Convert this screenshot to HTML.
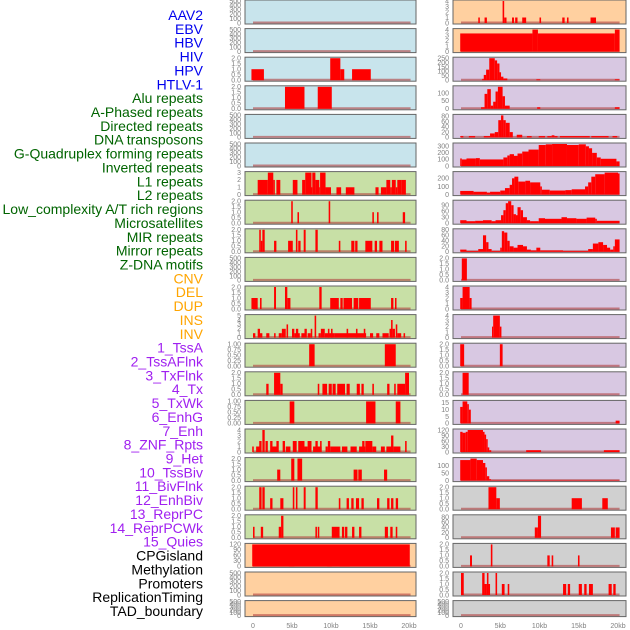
<!DOCTYPE html>
<html><head><meta charset="utf-8">
<style>
html,body{margin:0;padding:0;background:#fff;width:630px;height:630px;overflow:hidden}
svg{display:block}
.lbl{font-family:"Liberation Sans",sans-serif;font-size:14px}
.tk{font-family:"Liberation Sans",sans-serif;font-size:7px;fill:#808080}
</style></head>
<body>
<svg id="chart" width="630" height="630"></svg>
<script>
const trackLabels = ["AAV2","EBV","HBV","HIV","HPV","HTLV-1","Alu repeats","A-Phased repeats","Directed repeats","DNA transposons","G-Quadruplex forming repeats","Inverted repeats","L1 repeats","L2 repeats","Low_complexity A/T rich regions","Microsatellites","MIR repeats","Mirror repeats","Z-DNA motifs","CNV","DEL","DUP","INS","INV","1_TssA","2_TssAFlnk","3_TxFlnk","4_Tx","5_TxWk","6_EnhG","7_Enh","8_ZNF_Rpts","9_Het","10_TssBiv","11_BivFlnk","12_EnhBiv","13_ReprPC","14_ReprPCWk","15_Quies","CPGisland","Methylation","Promoters","ReplicationTiming","TAD_boundary"];
const labelColors = [].concat(Array(6).fill("#0000ee"),Array(13).fill("#006400"),Array(5).fill("#ffa500"),Array(15).fill("#a020f0"),Array(5).fill("#000000"));
const xTickLabels = ["0","5kb","10kb","15kb","20kb"];
const xTickValues = [0,5,10,15,20];

const T500=["0","100","200","300","400","500"], T2=["0.0","0.5","1.0","1.5","2.0"], T1=["0.00","0.25","0.50","0.75","1.00"];
// left column
const leftBg = ["#c8e4ec","#c8e4ec","#c8e4ec","#c8e4ec","#c8e4ec","#c8e4ec","#c8e0a6","#c8e0a6","#c8e0a6","#c8e0a6","#c8e0a6","#c8e0a6","#c8e0a6","#c8e0a6","#c8e0a6","#c8e0a6","#c8e0a6","#c8e0a6","#c8e0a6","#ffd0a0","#ffd0a0","#ffd0a0"];
const leftMax = [500,500,2,2,500,500,3,2,2,500,2,5,1,2,1,4,2,2,2,120,500,500];
const leftTicks = [T500,T500,T2,T2,T500,T500,["0","1","2","3"],T2,T2,T500,T2,["0","1","2","3","4","5"],T1,T2,T1,["0","1","2","3","4"],T2,T2,T2,["0","30","60","90","120"],T500,T500];
const leftSegs = [
[],[],
[[-0.2,1.4,1],[9.9,11.2,2],[11.2,11.7,1],[12.7,15.1,1]],
[[4.1,6.6,2],[8.3,10.1,2]],
[],[],
[[0.6,1.9,2],[1.9,2.6,3],[2.6,2.8,2],[3.0,3.5,2],[5.1,5.7,2],[6.3,6.7,2],[6.7,7.5,3],[7.5,7.6,1],[7.6,8.0,3],[8.0,8.5,2],[8.5,8.6,1],[8.6,9.3,3],[9.3,10,1],[10.7,11.3,1],[11.9,13,1],[15.7,16.1,1],[16.4,17.1,1],[17.1,17.6,2],[17.6,17.8,1],[17.8,18.3,2],[18.3,18.5,1],[18.5,19.0,2],[19.0,19.6,2]],
[[4.9,5.1,2],[5.7,5.9,1],[9.7,9.9,2],[15.3,15.5,1],[15.9,16.1,1],[19.2,19.5,1]],
[[0.8,1.0,2],[1.0,1.2,1],[1.2,1.5,2],[2.7,3.0,1],[4.5,5.1,1],[5.5,5.7,2],[5.8,6.1,1],[6.5,6.75,2],[8.0,8.3,2],[11.0,11.2,1],[12.6,13,1],[13.1,13.4,1],[14.4,15.3,1],[15.6,15.9,1],[16.2,16.6,1],[17.7,18.1,1],[18.2,18.7,1],[19.5,19.7,1]],
[],
[[-0.2,0.6,1],[0.9,1.1,1],[2.7,2.95,2],[4.1,4.4,2],[4.4,4.8,1],[8.5,8.8,2],[9.9,11.0,1],[11.2,11.5,1],[11.6,12.7,1],[12.9,13.5,1],[13.6,15.1,1],[17.7,18.0,1],[18.2,18.4,1]],
[[0,0.3,1],[0.6,0.9,2],[0.9,1.2,1],[1.7,2.1,1],[2.7,2.9,1],[3.3,3.7,1],[3.7,4.2,2],[4.3,4.5,3],[5.0,5.3,2],[5.3,6.0,1],[5.5,5.8,2],[6.2,6.6,1],[6.6,6.9,2],[7.0,7.4,1],[7.4,7.6,2],[7.9,8.1,5],[8.4,8.7,1],[8.7,9.2,2],[9.2,10.5,1],[9.6,9.8,2],[10.0,10.2,2],[10.5,14.5,1],[12.0,12.2,2],[13.2,13.4,2],[14.2,14.4,2],[15.0,15.4,1],[15.8,16.2,1],[16.6,17.4,1],[17.5,17.9,2],[17.7,17.9,4],[17.9,18.2,2],[18.3,18.5,3],[18.5,19.0,1],[19.3,19.5,1]],
[[7.2,7.9,1],[16.9,18.3,1]],
[[1.7,2.0,1],[2.7,3.5,2],[3.5,3.8,1],[8.3,8.5,1],[8.9,9.5,1],[9.7,10.1,1],[10.2,10.6,1],[10.8,11.8,1],[12.0,12.4,1],[13.3,13.7,1],[13.9,14.2,1],[15.3,15.5,1],[17.2,17.5,1],[18.1,18.3,1],[18.5,19.5,1],[19.5,20.0,2]],
[[4.7,5.3,1],[14.5,15.7,1],[18.3,18.9,1]],
[[-0.1,0.1,1],[0.4,0.9,1],[0.8,1.1,2],[1.2,1.5,4],[1.6,1.9,2],[2.2,2.5,2],[2.5,3.2,1],[3.0,3.3,2],[3.8,4.1,2],[4.2,4.8,1],[5.1,5.6,2],[5.8,6.6,2],[6.6,7.0,1],[7.0,7.5,2],[7.7,8.8,1],[8.0,8.3,2],[8.6,8.8,2],[9.3,9.6,1],[9.6,9.9,2],[9.9,11.2,1],[11.4,12.1,1],[12.5,13.3,1],[13.6,14.4,1],[14.0,14.3,2],[14.4,15.3,2],[15.3,15.8,1],[16.4,16.9,1],[17.1,17.9,1],[17.7,18.0,3],[18.0,18.9,1],[19.5,19.7,2]],
[[3.1,3.5,1],[4.9,5.3,2],[5.7,6.3,2],[12.9,13.4,1],[13.5,13.95,1],[16.8,17.2,1]],
[[0.8,1.1,2],[1.2,1.5,2],[2.2,2.5,1],[3.5,3.9,1],[5.1,5.3,2],[5.5,5.7,2],[6.5,6.75,2],[8.0,8.3,2],[11.0,11.2,1],[12.0,12.3,1],[12.6,12.9,1],[13.2,13.6,1],[13.9,14.2,1],[15.9,16.2,1],[17.2,17.5,1],[17.7,18.0,1],[18.3,18.6,1]],
[[0.0,0.2,1],[1.0,1.3,1],[3.3,3.6,1],[3.6,3.9,2],[8.0,8.2,1],[8.3,8.5,1],[10.1,11.1,1],[11.4,11.7,1],[11.8,12.1,1],[12.7,13.0,1],[13.6,13.9,1],[16.9,17.3,1],[17.6,17.9,1],[18.3,18.5,1]],
[[-0.1,20.1,120],[4.6,5.3,115],[9.5,10.1,113],[11.1,12.4,116]],
[],[]
];
// right column
const rightBg = ["#ffd0a0","#ffd0a0","#d8c8e2","#d8c8e2","#d8c8e2","#d8c8e2","#d8c8e2","#d8c8e2","#d8c8e2","#d8c8e2","#d8c8e2","#d8c8e2","#d8c8e2","#d8c8e2","#d8c8e2","#d8c8e2","#d8c8e2","#d0d0d0","#d0d0d0","#d0d0d0","#d0d0d0","#d0d0d0"];
const rightMax = [4,4,250,140,83,335,270,110,80,2,4,4,2,2,16,120,150,2,85,2,2,500];
const rightTicks = [["0","1","2","3","4"],["0","1","2","3","4"],["0","50","100","150","200","250"],["0","50","100"],["0","20","40","60","80"],["0","100","200","300"],["0","100","200"],["0","30","60","90"],["0","20","40","60","80"],T2,["0","1","2","3","4"],["0","1","2","3","4"],T2,T2,["0","5","10","15"],["0","30","60","90","120"],["0","50","100"],T2,["0","20","40","60","80"],T2,T2,T500];
const rightSegs = [
[[2.2,2.4,1],[3.0,3.3,1],[5.3,5.5,4],[5.5,5.8,1],[6.5,6.75,1],[6.9,7.2,1],[7.8,8.3,1],[10.0,10.2,1],[12.9,13.2,1],[13.5,13.7,1],[16.5,17.2,1]],
[[-0.1,9.1,3.3],[9.1,9.8,4],[9.8,19.6,3.3],[19.6,20.2,4]],
[[2.7,2.9,15],[2.9,3.2,60],[3.2,3.6,120],[3.6,4.3,250],[4.3,4.6,225],[4.6,4.9,190],[4.9,5.1,90],[5.1,5.4,40],[5.4,5.9,20],[9.6,10.1,10],[19.6,20.2,10]],
[[2.55,3.0,10],[3.0,3.35,95],[3.35,3.8,125],[3.8,4.1,20],[4.1,4.4,45],[4.4,4.7,110],[4.7,5.3,140],[5.3,5.6,80],[5.6,6.2,20],[9.7,10.1,10],[19.6,20.2,10]],
[[-0.1,0.3,5],[1.0,1.8,5],[2.9,3.7,5],[3.7,4.3,15],[4.3,4.75,20],[4.75,5.1,65],[5.1,5.4,83],[5.4,5.7,65],[5.7,6.2,55],[6.2,6.6,20],[7.1,7.8,10],[8.4,9.0,5],[9.9,10.7,5],[11.0,11.55,5],[11.55,11.9,8],[11.9,12.3,5],[12.6,16.4,5],[16.6,18.8,5],[19.3,19.9,5]],
[[-0.1,0.1,115],[0.1,0.7,100],[0.7,1.9,115],[1.9,2.4,120],[2.4,5.4,100],[5.4,5.9,130],[5.9,6.2,160],[6.2,6.75,180],[6.75,7.2,155],[7.2,7.8,190],[7.8,8.6,220],[8.6,9.9,250],[9.9,10.8,320],[10.8,11.6,330],[11.6,13.5,335],[13.5,15.0,320],[15.0,15.9,330],[15.9,16.3,300],[16.3,16.7,270],[16.7,17.3,200],[17.3,17.8,130],[17.8,19.8,110],[19.8,20.2,70]],
[[-0.1,1.6,45],[1.6,3.3,35],[3.3,3.7,25],[3.7,5.0,35],[5.0,5.6,50],[5.6,6.2,80],[6.2,6.5,120],[6.5,6.8,200],[6.8,7.3,220],[7.3,8.2,160],[8.2,8.8,170],[8.8,10.1,150],[10.1,10.3,100],[10.3,11.3,60],[11.3,13.3,50],[13.3,14.1,55],[14.1,15.8,65],[15.8,16.2,100],[16.2,16.6,150],[16.6,17.1,220],[17.1,18.3,250],[18.3,20.0,270],[20.0,20.2,260]],
[[-0.1,0.7,15],[0.7,1.8,10],[1.8,2.8,12],[2.8,3.9,15],[3.9,4.4,10],[4.4,5.1,15],[5.1,5.4,40],[5.4,5.7,65],[5.7,6.0,100],[6.0,6.4,110],[6.4,6.7,90],[6.7,7.0,45],[7.0,7.2,40],[7.2,7.6,80],[7.6,7.9,65],[7.9,8.4,30],[8.4,8.8,15],[8.8,9.9,10],[9.9,10.7,25],[10.7,12.8,22],[12.8,13.5,30],[13.5,14.7,25],[14.7,16.0,22],[16.0,17.1,28],[17.1,17.3,22],[17.3,20.2,12]],
[[-0.1,0.7,8],[0.7,2.2,3],[2.2,2.8,10],[2.8,3.2,60],[3.2,3.5,35],[3.5,3.9,10],[3.9,5.0,3],[5.0,5.2,15],[5.2,5.5,75],[5.5,5.9,70],[5.9,6.2,40],[6.2,6.7,20],[6.7,7.2,15],[7.2,7.9,25],[7.9,8.4,20],[8.4,8.9,8],[8.9,9.6,5],[9.6,10.1,15],[10.1,13.0,5],[13.0,16.2,3],[16.2,16.8,10],[16.8,17.5,30],[17.5,18.1,35],[18.1,18.6,25],[18.6,19.0,15],[19.0,19.4,8],[19.4,19.6,20],[19.6,20.2,45]],
[[0.1,0.75,2]],
[[-0.1,0.2,2],[0.2,1.1,4],[1.1,1.35,2]],
[[3.95,4.1,2],[4.1,4.95,4],[4.95,5.15,2]],
[[-0.1,0.4,2],[4.95,5.3,2]],
[[0.2,0.98,2]],
[[-0.1,0.2,12],[0.2,0.8,16],[0.8,1.0,14],[1.0,1.25,10],[19.7,20.2,2]],
[[-0.1,0.2,110],[0.2,0.6,105],[0.6,0.85,110],[0.85,2.8,120],[2.8,3.0,110],[3.0,3.2,95],[3.2,3.4,70],[3.4,3.6,25],[3.6,3.85,10],[8.3,10.2,10],[18.2,20.2,10]],
[[-0.1,1.2,140],[1.2,2.0,150],[2.0,2.8,140],[2.8,3.1,120],[3.1,3.3,90],[3.3,3.6,30],[3.6,3.8,10],[3.8,20.2,3]],
[[3.5,4.5,2],[4.5,4.95,1],[14.1,15.4,1],[18.0,18.7,1]],
[[9.4,9.8,40],[9.8,10.2,85],[19.1,19.6,40],[19.7,20.2,40]],
[[1.15,1.4,1],[3.8,4.0,2],[11.0,11.3,1],[11.55,11.75,1],[14.9,15.1,1]],
[[0.0,0.35,2],[2.7,3.0,2],[3.0,3.3,1],[3.3,3.5,2],[3.5,3.7,1],[4.4,4.6,2],[5.2,5.55,1],[5.95,6.15,1],[13.0,13.4,1],[13.6,13.9,1],[15.0,15.4,1],[15.7,16.0,1],[16.3,16.8,1],[18.8,19.2,1],[19.4,19.7,1]],
[]
];

const NS="http://www.w3.org/2000/svg";
const svg=document.getElementById('chart');
function mk(tag,attrs,parent){const e=document.createElementNS(NS,tag);for(const k in attrs)e.setAttribute(k,attrs[k]);(parent||svg).appendChild(e);return e;}

// labels
trackLabels.forEach((t,i)=>{
  const e=mk('text',{x:203,y:20+i*13.86,'text-anchor':'end',class:'lbl',fill:labelColors[i]});
  e.textContent=t;
  
  
});

function panelTop(i){return i*28.6;}
function panelH(i){return i===21?16:24;}

function drawColumn(col,px,pw,x0,pxPerKb,bgs,maxs,ticks,segs){
  const xs=kb=>x0+kb*pxPerKb;
  for(let i=0;i<22;i++){
    const top=panelTop(i),h=panelH(i);
    const g=mk('g',{});
    
    
    const r=mk('rect',{x:px,y:top,width:pw,height:h,fill:bgs[i],stroke:'#666',"stroke-width":1},g);
    
    
    const yb=top+h-1, yt=top+1;
    const ys=v=>yb-(v/maxs[i])*(yb-yt);
    ticks[i].forEach(s=>{
      const tx=mk('text',{x:px-4,y:ys(parseFloat(s))+2.3,'text-anchor':'end',class:'tk'},g);
      tx.textContent=s;
      
      
    });
    const bl=mk('line',{x1:xs(0),x2:xs(20.2),y1:yb-0.5,y2:yb-0.5,stroke:'#b04040','stroke-opacity':0.6,'stroke-width':2},g);
    
    
    segs[i].forEach(sg=>{
      const b=mk('rect',{x:xs(sg[0]),y:ys(sg[2]),width:Math.max(0.8,xs(sg[1])-xs(sg[0])),height:yb-ys(sg[2]),fill:'#ff0000'},g);
      
      
    });
  }
  xTickValues.forEach((v,k)=>{
    const t=mk('text',{x:xs(v),y:628,'text-anchor':'middle',class:'tk'});
    t.textContent=xTickLabels[k];
    
    
  });
}
drawColumn('left',245,171,253,7.8,leftBg,leftMax,leftTicks,leftSegs);
drawColumn('right',453,173,461,7.85,rightBg,rightMax,rightTicks,rightSegs);
</script>
</body></html>
